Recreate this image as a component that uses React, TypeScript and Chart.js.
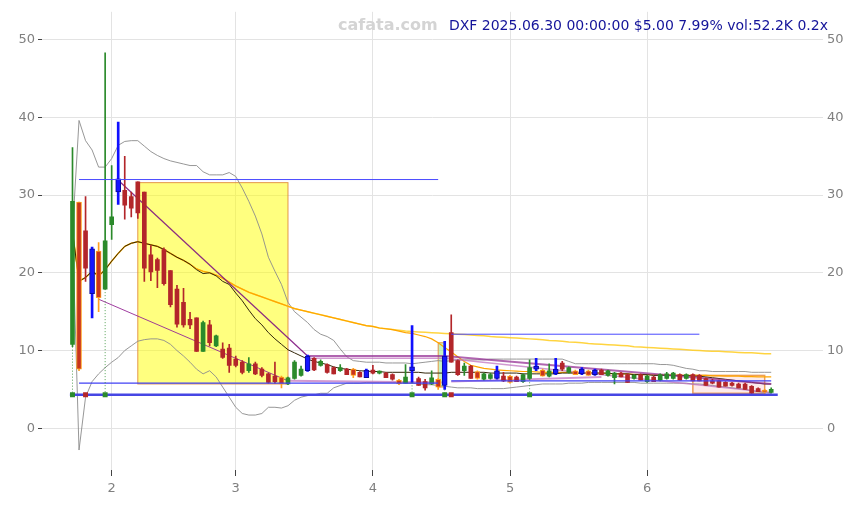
import React, { useEffect, useRef } from 'react';
import { Chart, registerables } from 'chart.js';

Chart.register(...registerables);
Chart.defaults.font.family = "'DejaVu Sans', sans-serif";

// ---- quote header ----
const ticker = 'DXF';
const lastVolume = 52200;
const volumeRatio = 0.2;

// ---- daily sessions ----
const dates: string[] = [
  '2025-01-24', '2025-01-27', '2025-01-28', '2025-01-29', '2025-01-30', '2025-01-31',
  '2025-02-03', '2025-02-04', '2025-02-05', '2025-02-06', '2025-02-07', '2025-02-10', '2025-02-11', '2025-02-12', '2025-02-13', '2025-02-14',
  '2025-02-18', '2025-02-19', '2025-02-20', '2025-02-21', '2025-02-24', '2025-02-25', '2025-02-26', '2025-02-27', '2025-02-28',
  '2025-03-03', '2025-03-04', '2025-03-05', '2025-03-06', '2025-03-07', '2025-03-10', '2025-03-11', '2025-03-12', '2025-03-13', '2025-03-14',
  '2025-03-17', '2025-03-18', '2025-03-19', '2025-03-20', '2025-03-21', '2025-03-24', '2025-03-25', '2025-03-26', '2025-03-27', '2025-03-28', '2025-03-31',
  '2025-04-01', '2025-04-02', '2025-04-03', '2025-04-04', '2025-04-07', '2025-04-08', '2025-04-09', '2025-04-10', '2025-04-11', '2025-04-14',
  '2025-04-15', '2025-04-16', '2025-04-17', '2025-04-21', '2025-04-22', '2025-04-23', '2025-04-24', '2025-04-25', '2025-04-28', '2025-04-29', '2025-04-30',
  '2025-05-01', '2025-05-02', '2025-05-05', '2025-05-06', '2025-05-07', '2025-05-08', '2025-05-09', '2025-05-12', '2025-05-13', '2025-05-14',
  '2025-05-15', '2025-05-16', '2025-05-19', '2025-05-20', '2025-05-21', '2025-05-22', '2025-05-23', '2025-05-27', '2025-05-28', '2025-05-29', '2025-05-30',
  '2025-06-02', '2025-06-03', '2025-06-04', '2025-06-05', '2025-06-06', '2025-06-09', '2025-06-10', '2025-06-11', '2025-06-12', '2025-06-13',
  '2025-06-16', '2025-06-17', '2025-06-18', '2025-06-20', '2025-06-23', '2025-06-24', '2025-06-25', '2025-06-26', '2025-06-27', '2025-06-30',
];

const opens: number[] = [
  10.8, 29.1, 25.4, 23.1, 22.8, 17.9, 26.2, 32.1, 30.6, 29.8,
  31.7, 30.4, 22.3, 21.7, 23.0, 20.3, 17.9, 16.2, 14.0, 14.2,
  9.9, 13.3, 10.6, 10.2, 10.3, 8.9, 8.5, 7.4, 8.3, 7.6,
  7.0, 6.7, 6.6, 5.7, 6.4, 6.8, 7.4, 9.0, 8.1, 8.2,
  7.8, 7.4, 7.6, 7.6, 7.2, 6.5, 7.5, 7.1, 7.1, 6.9,
  6.2, 5.8, 7.4, 6.4, 6.0, 5.7, 6.3, 5.5, 12.3, 8.7,
  7.4, 8.0, 7.3, 6.3, 6.4, 6.4, 6.7, 6.7, 6.6, 6.0,
  6.4, 7.6, 7.5, 6.7, 7.0, 8.4, 7.2, 7.4, 7.0, 7.4,
  6.9, 7.5, 6.8, 6.5, 7.1, 6.9, 6.4, 6.9, 6.0, 6.6,
  6.2, 6.4, 6.4, 6.9, 6.4, 6.9, 6.8, 6.4, 6.1, 6.1,
  5.9, 5.8, 5.7, 5.7, 5.4, 5.1, 4.9, 4.6,
];
const highs: number[] = [
  36.1, 29.1, 29.8, 23.3, 23.9, 48.3, 33.8, 39.4, 35.0, 30.4,
  31.7, 30.4, 23.5, 21.9, 23.2, 20.3, 18.4, 18.0, 14.9, 14.2,
  13.8, 13.9, 12.0, 11.0, 10.8, 9.3, 8.7, 9.1, 8.5, 7.8,
  7.1, 8.5, 6.7, 6.6, 8.7, 8.0, 9.4, 9.1, 8.8, 8.3,
  7.9, 8.2, 7.7, 7.7, 7.3, 7.6, 8.1, 7.4, 7.2, 7.0,
  6.3, 8.2, 13.2, 6.6, 6.3, 7.4, 6.4, 11.2, 14.6, 8.8,
  8.4, 8.1, 7.4, 7.1, 7.1, 8.0, 7.2, 6.8, 6.7, 7.0,
  8.8, 9.0, 7.6, 8.3, 9.0, 8.6, 7.9, 7.5, 7.8, 7.5,
  7.6, 7.6, 7.5, 7.2, 7.2, 7.0, 6.9, 7.0, 6.8, 6.7,
  7.0, 7.2, 7.2, 7.0, 7.0, 7.0, 6.9, 6.5, 6.3, 6.2,
  6.0, 5.9, 5.8, 5.8, 5.5, 5.2, 5.0, 5.2,
];
const lows: number[] = [
  10.5, 7.4, 18.9, 14.2, 15.0, 17.9, 24.3, 28.8, 26.9, 27.2,
  27.0, 18.9, 19.0, 18.1, 18.4, 15.6, 13.0, 13.0, 12.8, 9.9,
  9.9, 10.6, 10.5, 9.0, 7.2, 7.9, 7.0, 7.2, 6.9, 6.6,
  5.8, 5.8, 5.2, 5.6, 6.3, 6.7, 7.3, 7.4, 8.0, 7.1,
  7.0, 7.3, 6.9, 6.5, 6.6, 6.5, 7.0, 7.0, 6.5, 6.2,
  5.6, 5.8, 5.9, 5.5, 4.9, 5.6, 5.0, 5.0, 8.5, 6.8,
  6.8, 6.4, 6.3, 6.2, 6.3, 6.3, 6.0, 5.8, 6.0, 5.9,
  6.3, 7.4, 6.7, 6.6, 6.9, 7.4, 7.1, 6.9, 6.9, 6.8,
  6.8, 6.9, 6.7, 5.7, 6.6, 5.9, 6.3, 6.2, 5.9, 6.0,
  6.1, 6.3, 6.3, 6.2, 6.3, 6.1, 6.1, 5.5, 5.7, 5.3,
  5.4, 5.4, 5.2, 5.0, 4.2, 4.7, 4.4, 4.5,
];
const closes: number[] = [
  29.2, 7.6, 20.6, 17.3, 16.8, 24.1, 27.2, 30.4, 28.7, 28.3,
  27.7, 20.6, 20.1, 20.3, 18.6, 15.9, 13.4, 13.3, 13.3, 9.9,
  13.6, 11.0, 11.9, 9.1, 8.1, 8.1, 7.2, 8.3, 7.0, 6.8,
  5.9, 6.0, 5.7, 6.5, 8.5, 7.6, 9.3, 7.5, 8.6, 7.2,
  7.0, 7.8, 6.9, 6.8, 6.6, 7.5, 7.1, 7.2, 6.5, 6.3,
  5.7, 6.6, 7.9, 5.5, 5.2, 6.5, 5.3, 9.3, 8.5, 6.9,
  8.0, 6.4, 6.4, 7.0, 6.9, 7.4, 6.1, 5.9, 6.0, 6.9,
  7.8, 8.0, 6.7, 7.4, 7.6, 7.6, 7.8, 6.9, 7.6, 6.8,
  7.5, 6.9, 7.4, 7.1, 6.6, 5.9, 6.8, 6.2, 6.7, 6.0,
  6.9, 7.0, 7.1, 6.2, 6.9, 6.1, 6.1, 5.5, 5.8, 5.3,
  5.4, 5.5, 5.2, 5.0, 4.5, 4.7, 4.63, 5.0,
];
// g = up, r = down, b = volume spike, o = flagged session
const sessionKinds: string[] = (
  'gorboggbrr' + 'rrrrrrrrrr' + 'grgrrrrgrr' + 'rrogggbrgr' + 'rgrorbrgrr' +
  'ogbrrgobrr' + 'groggbrorg' + 'gbogbrgobo' + 'brggrrgrgr' + 'gggrgrrrrr' + 'rrrrrrog'
).split('');

// ---- indicators ----
const maShort: number[] = [
  25.3, 18.9, 19.4, 20.2, 19.6, 20.4, 21.5, 22.5, 23.4, 23.8,
  24.0, 23.8, 23.6, 23.4, 23.0, 22.5, 22.0, 21.6, 21.1, 20.4,
  19.9, 20.0, 19.6, 18.9, 18.5, 17.4, 16.4, 15.2, 14.1, 13.3,
  12.3, 11.5, 10.8, 10.1, 9.7, 9.3, 8.9, 8.6, 8.4, 8.2,
  7.9, 7.7, 7.6, 7.5, 7.4, 7.35, 7.3, 7.3, 7.2, 7.2,
  7.2, 7.2, 7.2, 7.2, 7.1, 7.1, 7.1, 7.1, 7.2, 7.2,
  7.2, 7.2, 7.2, 7.2, 7.1, 7.1, 7.1, 7.1, 7.1, 7.0,
  7.0, 7.0, 7.0, 7.0, 7.0, 7.1, 7.1, 7.1, 7.1, 7.1,
  7.1, 7.1, 7.1, 7.0, 7.0, 7.0, 6.9, 6.9, 6.9, 6.8,
  6.8, 6.8, 6.8, 6.8, 6.8, 6.7, 6.7, 6.6, 6.5, 6.4,
  6.3, 6.2, 6.1, 6.0, 5.9, 5.8, 5.7, 5.7,
];
const maMid: number[] = [
  25.3, 18.9, 19.4, 20.2, 19.6, 20.4, 21.5, 22.5, 23.4, 23.8,
  24.0, 23.8, 23.6, 23.4, 23.0, 22.5, 22.0, 21.6, 21.1, 20.5,
  20.2, 20.0, 19.7, 19.3, 18.8, 18.3, 17.9, 17.5, 17.2, 16.9,
  16.6, 16.3, 16.0, 15.7, 15.4, 15.2, 15.0, 14.8, 14.6, 14.4,
  14.2, 14.0, 13.8, 13.6, 13.4, 13.2, 13.1, 12.9, 12.8, 12.7,
  12.5, 12.3, 12.2, 12.0, 11.8, 11.5, 11.0, 10.4, 9.8, 9.2,
  8.6, 8.1, 7.9, 7.7, 7.6, 7.5, 7.45, 7.4, 7.35, 7.3,
  7.3, 7.25, 7.2, 7.2, 7.2, 7.2, 7.2, 7.15, 7.1, 7.1,
  7.1, 7.1, 7.05, 7.0, 7.0, 7.0, 6.95, 6.9, 6.9, 6.9,
  6.9, 6.9, 6.85, 6.85, 6.8, 6.8, 6.8, 6.8, 6.75, 6.75,
  6.7, 6.7, 6.7, 6.65, 6.65, 6.6, 6.6, 6.6,
];
const maLong: number[] = [
  25.3, 18.9, 19.4, 20.2, 19.6, 20.4, 21.5, 22.5, 23.4, 23.8,
  24.0, 23.8, 23.6, 23.4, 23.0, 22.5, 22.0, 21.6, 21.1, 20.5,
  20.2, 20.0, 19.7, 19.3, 18.8, 18.3, 17.9, 17.5, 17.2, 16.9,
  16.6, 16.3, 16.0, 15.7, 15.4, 15.2, 15.0, 14.8, 14.6, 14.4,
  14.2, 14.0, 13.8, 13.6, 13.4, 13.2, 13.1, 12.9, 12.8, 12.7,
  12.6, 12.5, 12.45, 12.4, 12.35, 12.3, 12.25, 12.2, 12.15, 12.1,
  12.05, 12.0, 11.95, 11.9, 11.8, 11.75, 11.7, 11.65, 11.6, 11.55,
  11.5, 11.45, 11.4, 11.3, 11.25, 11.2, 11.1, 11.05, 11.0, 10.9,
  10.85, 10.8, 10.75, 10.7, 10.65, 10.6, 10.5, 10.45, 10.4, 10.35,
  10.3, 10.25, 10.2, 10.15, 10.1, 10.05, 10.0, 9.95, 9.9, 9.9,
  9.85, 9.8, 9.75, 9.7, 9.7, 9.65, 9.6, 9.6,
];
const bandUpper: number[] = [
  25.3, 39.6, 37.0, 35.8, 33.6, 33.6, 34.7, 36.4, 36.9, 37.0,
  37.0, 36.3, 35.6, 35.1, 34.7, 34.4, 34.2, 34.0, 33.8, 33.8,
  33.0, 32.6, 32.6, 32.6, 32.9, 32.4, 30.9, 29.2, 27.3, 25.0,
  22.0, 20.2, 18.5, 16.2, 15.0, 14.3, 13.6, 12.7, 12.1, 11.8,
  11.3, 10.2, 9.2, 8.7, 8.6, 8.5, 8.5, 8.5, 8.4, 8.4,
  8.4, 8.4, 8.3, 8.4, 8.5, 8.6, 8.7, 8.6, 8.7, 8.8,
  8.8, 8.8, 8.8, 8.8, 8.9, 8.9, 8.9, 8.9, 8.9, 8.9,
  8.9, 8.9, 8.9, 8.9, 8.9, 8.9, 8.6, 8.3, 8.3, 8.3,
  8.3, 8.3, 8.3, 8.3, 8.3, 8.3, 8.3, 8.3, 8.3, 8.3,
  8.2, 8.2, 8.1, 7.9, 7.7, 7.6, 7.4, 7.4, 7.3, 7.3,
  7.3, 7.3, 7.3, 7.3, 7.2, 7.2, 7.2, 7.2,
];
const bandLower: number[] = [
  25.3, -2.8, 4.0, 6.0, 7.0, 7.8, 8.5, 9.1, 10.0, 10.6,
  11.2, 11.4, 11.5, 11.5, 11.3, 10.8, 10.0, 9.3, 8.5, 7.6,
  7.0, 7.4, 6.6, 5.3, 4.0, 2.7, 1.9, 1.7, 1.7, 1.9,
  2.7, 2.7, 2.6, 2.9, 3.6, 4.0, 4.2, 4.3, 4.5, 4.5,
  5.2, 5.5, 5.8, 5.8, 5.8, 5.9, 5.9, 5.9, 5.9, 5.9,
  5.9, 5.8, 5.8, 5.7, 5.6, 5.6, 5.5, 5.4, 5.3, 5.2,
  5.2, 5.2, 5.1, 5.1, 5.1, 5.1, 5.1, 5.2, 5.3, 5.4,
  5.5, 5.6, 5.7, 5.7, 5.7, 5.7, 5.8, 5.8, 5.8, 5.9,
  5.9, 5.9, 5.9, 5.9, 5.9, 5.9, 5.9, 5.8, 5.8, 5.8,
  5.8, 5.8, 5.8, 5.8, 5.8, 5.7, 5.7, 5.6, 5.5, 5.4,
  5.3, 5.2, 5.1, 5.0, 4.8, 4.7, 4.6, 4.5,
];

// ---- drawn studies (session index / price) ----
const fallTopX = [7, 36];
const fallTopY = [31.9, 9.3];
const fallLowX = [4, 33];
const fallLowY = [16.6, 6.1];
const channelUpperX = [36, 57, 107];
const channelUpperY = [9.3, 9.3, 5.7];
const channelInnerX = [36, 57, 107];
const channelInnerY = [9.0, 9.0, 4.6];
const supportAX = [33, 57];
const supportAY = [6.1, 5.9];
const supportBX = [58, 81];
const supportBY = [6.0, 6.6];

const levelValues = [32.0, 5.8, 12.1, 6.1, 4.3];
const levelFrom = [1, 1, 58, 58, -0.4];
const levelTo = [56, 56, 96, 107, 108];

const zoneFrom = [10, 56, 95];
const zoneTo = [33, 57, 106];
const zoneHigh = [31.6, 11.0, 6.8];
const zoneLow = [5.7, 5.3, 4.5];

const signalIdx = [0, 2, 5, 52, 57, 58, 70];
const signalSide = ['buy', 'sell', 'buy', 'buy', 'buy', 'sell', 'buy'];
const signalLevel = 4.3;

const yTicks = [0, 10, 20, 30, 40, 50];

// ---- styling ----
const kindColor: Record<string, string> = { g: '#2b8a2b', r: '#b3262a', b: '#1010ff', o: '#ffa01c' };
const bodyFill: Record<string, string> = { g: '#2b8a2b', r: '#b3262a', b: '#1515ff', o: '#c8341f' };
const bodyEdge: Record<string, string> = { g: '#2b8a2b', r: '#b3262a', b: '#0a0a9a', o: '#ffa01c' };
const zoneFills = ['rgba(255,255,0,0.5)', 'rgba(150,235,140,0.55)', 'rgba(250,190,190,0.3)'];
const zoneEdges = ['rgba(225,140,60,0.9)', 'rgba(230,140,50,0.9)', 'rgba(235,150,70,0.9)'];
const zoneEdgeWidths = [1, 1, 1.5];
const levelColors = ['#4a4aff', '#4040f5', '#4a4aff', '#4040f5', '#4646e4'];
const levelWidths = [1, 1.2, 1, 1.2, 2.5];

const monthTicks: number[] = dates
  .map((d, i) => (i > 0 && d.slice(5, 7) !== dates[i - 1].slice(5, 7) ? i : -1))
  .filter((i) => i >= 0);
const monthLabel = (v: number) => {
  const i = Math.round(v);
  return dates[i] ? String(Number(dates[i].slice(5, 7))) : '';
};

const series = (ys: number[]) => ys.map((y, i) => ({ x: i, y }));
const polyline = (xs: number[], ys: number[]) => xs.map((x, k) => ({ x, y: ys[k] }));

function lineSet(data: any[], color: string, width: number, order: number, extra: any = {}) {
  return {
    type: 'line',
    data,
    borderColor: color,
    backgroundColor: color,
    borderWidth: width,
    pointRadius: 0,
    pointHoverRadius: 0,
    fill: false,
    tension: 0,
    order,
    ...extra,
  };
}

function candleSets() {
  const idx = dates.map((_, i) => i);
  const thinWick = idx.filter((i) => sessionKinds[i] !== 'b');
  const boldWick = idx.filter((i) => sessionKinds[i] === 'b');
  const plainBody = idx.filter((i) => sessionKinds[i] === 'g' || sessionKinds[i] === 'r');
  const markedBody = idx.filter((i) => sessionKinds[i] === 'b' || sessionKinds[i] === 'o');
  const wick = (list: number[], w: number) => ({
    type: 'bar',
    data: list.map((i) => ({ x: i, y: [lows[i], highs[i]] })),
    backgroundColor: list.map((i) => kindColor[sessionKinds[i]]),
    barThickness: w,
    grouped: false,
    borderWidth: 0,
    order: 11,
  });
  const body = (list: number[], w: number, edge: number) => ({
    type: 'bar',
    data: list.map((i) => ({ x: i, y: [opens[i], closes[i]] })),
    backgroundColor: list.map((i) => bodyFill[sessionKinds[i]]),
    borderColor: list.map((i) => bodyEdge[sessionKinds[i]]),
    borderWidth: edge,
    borderSkipped: false,
    barThickness: w,
    minBarLength: 2,
    grouped: false,
    order: 10,
  });
  return [wick(thinWick, 1), wick(boldWick, 2), body(plainBody, 4, 0), body(markedBody, 5, 1)];
}

const zonePlugin = {
  id: 'zones',
  beforeDatasetsDraw(chart: any) {
    const { ctx, scales } = chart;
    const xs = scales.x;
    const ys = scales.y;
    ctx.save();
    zoneFrom.forEach((from, k) => {
      const x0 = xs.getPixelForValue(from);
      const x1 = xs.getPixelForValue(zoneTo[k]);
      const y0 = ys.getPixelForValue(zoneHigh[k]);
      const y1 = ys.getPixelForValue(zoneLow[k]);
      ctx.fillStyle = zoneFills[k];
      ctx.fillRect(x0, y0, x1 - x0, y1 - y0);
      ctx.strokeStyle = zoneEdges[k];
      ctx.lineWidth = zoneEdgeWidths[k];
      ctx.strokeRect(x0, y0, x1 - x0, y1 - y0);
    });
    ctx.restore();
  },
};

const last = closes.length - 1;
const changePct = (closes[last] / closes[last - 1] - 1) * 100;
const headline =
  `${ticker} ${dates[last].replace(/-/g, '.')} 00:00:00 $${closes[last].toFixed(2)} ` +
  `${changePct.toFixed(2)}% vol:${(lastVolume / 1000).toFixed(1)}K ${volumeRatio.toFixed(1)}x`;

const headerPlugin = {
  id: 'header',
  afterDraw(chart: any) {
    const { ctx } = chart;
    ctx.save();
    ctx.textBaseline = 'middle';
    ctx.font = "bold 16px 'DejaVu Sans', sans-serif";
    ctx.fillStyle = '#d4d4d4';
    ctx.textAlign = 'left';
    ctx.fillText('cafata.com', 338, 26);
    ctx.font = "14px 'DejaVu Sans', sans-serif";
    ctx.fillStyle = '#14149a';
    ctx.textAlign = 'right';
    ctx.fillText(headline, 828, 26);
    ctx.restore();
  },
};

export default function App() {
  const ref = useRef<HTMLCanvasElement>(null);

  useEffect(() => {
    document.body.style.margin = '0';
    const canvas = ref.current;
    if (!canvas) return;

    const datasets: any[] = [
      lineSet(series(bandUpper), 'rgba(140,140,140,0.9)', 1, 20),
      lineSet(series(bandLower), 'rgba(140,140,140,0.9)', 1, 20),
      lineSet(series(maLong), 'rgba(255,205,30,0.85)', 1.5, 17),
      lineSet(series(maMid), '#ffa500', 1.2, 16),
      lineSet(series(maShort), '#33260a', 1, 15),
      lineSet(polyline(fallTopX, fallTopY), 'rgba(128,20,128,0.9)', 1.2, 12),
      lineSet(polyline(fallLowX, fallLowY), 'rgba(150,40,150,0.9)', 1, 12),
      lineSet(polyline(channelUpperX, channelUpperY), 'rgba(150,50,150,0.75)', 2, 12),
      lineSet(polyline(channelInnerX, channelInnerY), 'rgba(190,110,190,0.7)', 1.5, 12),
      lineSet(polyline(supportAX, supportAY), 'rgba(190,110,190,0.7)', 2, 12),
      lineSet(polyline(supportBX, supportBY), 'rgba(190,110,190,0.7)', 2, 12),
      ...candleSets(),
      ...levelValues.map((v, k) =>
        lineSet([{ x: levelFrom[k], y: v }, { x: levelTo[k], y: v }], levelColors[k], levelWidths[k], 5)
      ),
      ...signalIdx
        .filter((_, k) => signalSide[k] === 'buy')
        .map((i) =>
          lineSet([{ x: i, y: lows[i] }, { x: i, y: signalLevel }], 'rgba(43,138,43,0.8)', 1, 4, {
            borderDash: [1, 2],
          })
        ),
      {
        type: 'line',
        data: signalIdx.map((i) => ({ x: i, y: signalLevel })),
        showLine: false,
        pointStyle: 'rect',
        pointRadius: 3.5,
        pointHoverRadius: 3.5,
        pointBorderWidth: 0,
        pointBackgroundColor: signalSide.map((s) => (s === 'buy' ? '#2b8a2b' : '#b3262a')),
        order: 1,
      },
    ];

    const chart = new Chart(canvas, {
      type: 'line',
      data: { datasets },
      plugins: [zonePlugin, headerPlugin],
      options: {
        responsive: false,
        animation: false,
        events: [],
        layout: { padding: { top: 9, left: 0, right: 0, bottom: 0 } },
        plugins: { legend: { display: false }, tooltip: { enabled: false } },
        scales: {
          x: {
            type: 'linear',
            min: -4.67,
            max: 114.93,
            offset: false,
            afterBuildTicks: (s: any) => {
              s.ticks = monthTicks.map((v) => ({ value: v }));
            },
            afterFit: (s: any) => {
              s.height = 35;
            },
            grid: { color: '#e3e3e3', tickColor: '#444', tickLength: 6, offset: false },
            border: { display: false },
            ticks: {
              color: '#808080',
              font: { size: 13 },
              padding: 5,
              maxRotation: 0,
              autoSkip: false,
              callback: (v: any) => monthLabel(Number(v)),
            },
          },
          y: {
            position: 'left',
            min: -5.37,
            max: 53.58,
            afterBuildTicks: (s: any) => {
              s.ticks = yTicks.map((v) => ({ value: v }));
            },
            afterFit: (s: any) => {
              s.width = 42;
            },
            grid: { color: '#e3e3e3', tickColor: '#444', tickLength: 4 },
            border: { display: false },
            ticks: { color: '#808080', font: { size: 13 }, padding: 3 },
          },
          yR: {
            position: 'right',
            min: -5.37,
            max: 53.58,
            afterBuildTicks: (s: any) => {
              s.ticks = yTicks.map((v) => ({ value: v }));
            },
            afterFit: (s: any) => {
              s.width = 26;
            },
            grid: { display: false, drawOnChartArea: false, drawTicks: false },
            border: { display: false },
            ticks: { color: '#808080', font: { size: 13 }, padding: 4 },
          },
        },
      } as any,
    });

    return () => chart.destroy();
  }, []);

  return (
    <div style={{ position: 'relative', width: 849, height: 505 }}>
      <canvas ref={ref} width={849} height={505} style={{ display: 'block' }} />
    </div>
  );
}
